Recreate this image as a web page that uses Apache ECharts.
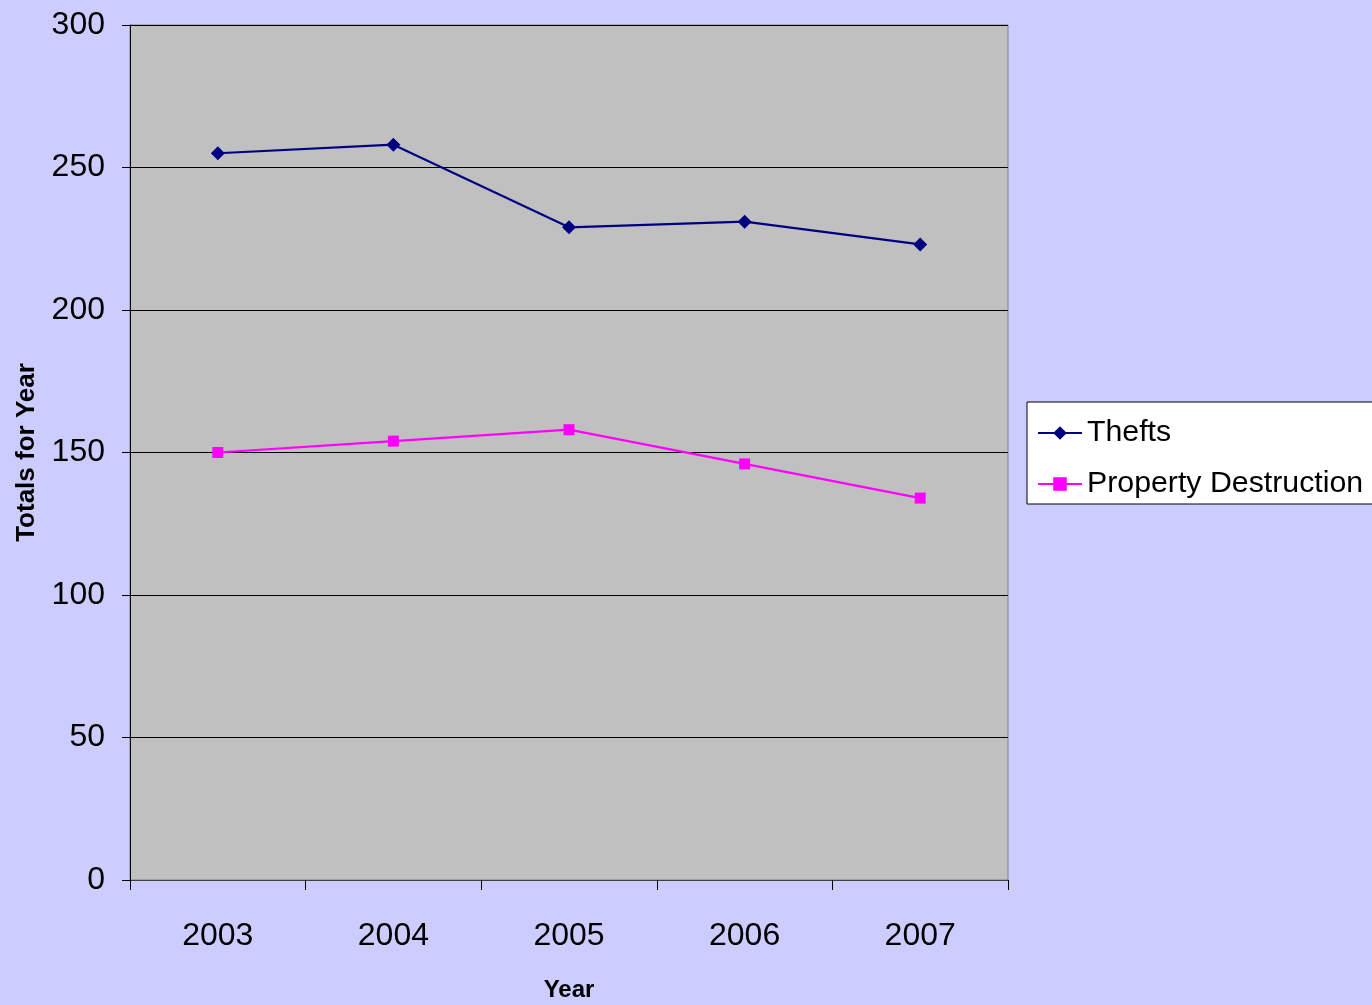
<!DOCTYPE html>
<html>
<head>
<meta charset="utf-8">
<script src="https://cdn.jsdelivr.net/npm/echarts@6/dist/echarts.min.js"></script>
<style>
html,body{margin:0;padding:0;background:#ccccff;}
#chart{width:1372px;height:1005px;}
</style>
</head>
<body>
<div id="chart"></div>
<script>
const years = ['2003', '2004', '2005', '2006', '2007'];
const thefts = [255, 258, 229, 231, 223];
const propertyDestruction = [150, 154, 158, 146, 134];
const yTicks = { min: 0, max: 300, interval: 50 };

const chart = echarts.init(document.getElementById('chart'));
const font = '"Liberation Sans", Arial, sans-serif';
chart.setOption({
  backgroundColor: '#ccccff',
  animation: false,
  grid: {
    left: 130, right: 364, top: 25, bottom: 125,
    outerBoundsMode: 'none',
    containLabel: false,
    show: true, backgroundColor: '#c0c0c0', borderColor: '#808080', borderWidth: 1
  },
  legend: {
    orient: 'vertical',
    left: 1027, top: 402,
    padding: [16, 20, 5, 10],
    backgroundColor: '#ffffff',
    borderColor: '#000000', borderWidth: 1,
    itemWidth: 44, itemHeight: 17, itemGap: 21,
    textStyle: { fontFamily: font, fontSize: 30.3, color: '#000', lineHeight: 30 },
    data: ['Thefts', 'Property Destruction']
  },
  xAxis: {
    type: 'category',
    data: years,
    boundaryGap: true,
    name: 'Year',
    nameLocation: 'middle',
    nameGap: 98,
    nameTextStyle: { fontFamily: font, fontSize: 24, fontWeight: 'bold', color: '#000', verticalAlign: 'top' },
    axisLine: { lineStyle: { color: '#404040', width: 1 } },
    axisTick: { show: true, length: 10, alignWithLabel: false, lineStyle: { color: '#000' } },
    axisLabel: { fontFamily: font, fontSize: 32, color: '#000', margin: 40 },
    splitLine: { show: false }
  },
  yAxis: {
    type: 'value',
    min: yTicks.min, max: yTicks.max, interval: yTicks.interval,
    name: 'Totals for Year',
    nameLocation: 'middle',
    nameGap: 90,
    nameTextStyle: { fontFamily: font, fontSize: 26, fontWeight: 'bold', color: '#000' },
    axisLine: { show: true, lineStyle: { color: '#000', width: 1 } },
    axisTick: { show: true, length: 8, lineStyle: { color: '#000' } },
    axisLabel: { fontFamily: font, fontSize: 32, color: '#000', margin: 25 },
    splitLine: { show: true, lineStyle: { color: '#000', width: 1 } }
  },
  series: [
    {
      name: 'Thefts', type: 'line', data: thefts,
      symbol: 'diamond', symbolSize: 14,
      lineStyle: { color: '#000080', width: 2.2 },
      itemStyle: { color: '#000080' }
    },
    {
      name: 'Property Destruction', type: 'line', data: propertyDestruction,
      symbol: 'rect', symbolSize: 11,
      lineStyle: { color: '#ff00ff', width: 2.2 },
      itemStyle: { color: '#ff00ff' }
    }
  ]
});
</script>
</body>
</html>
